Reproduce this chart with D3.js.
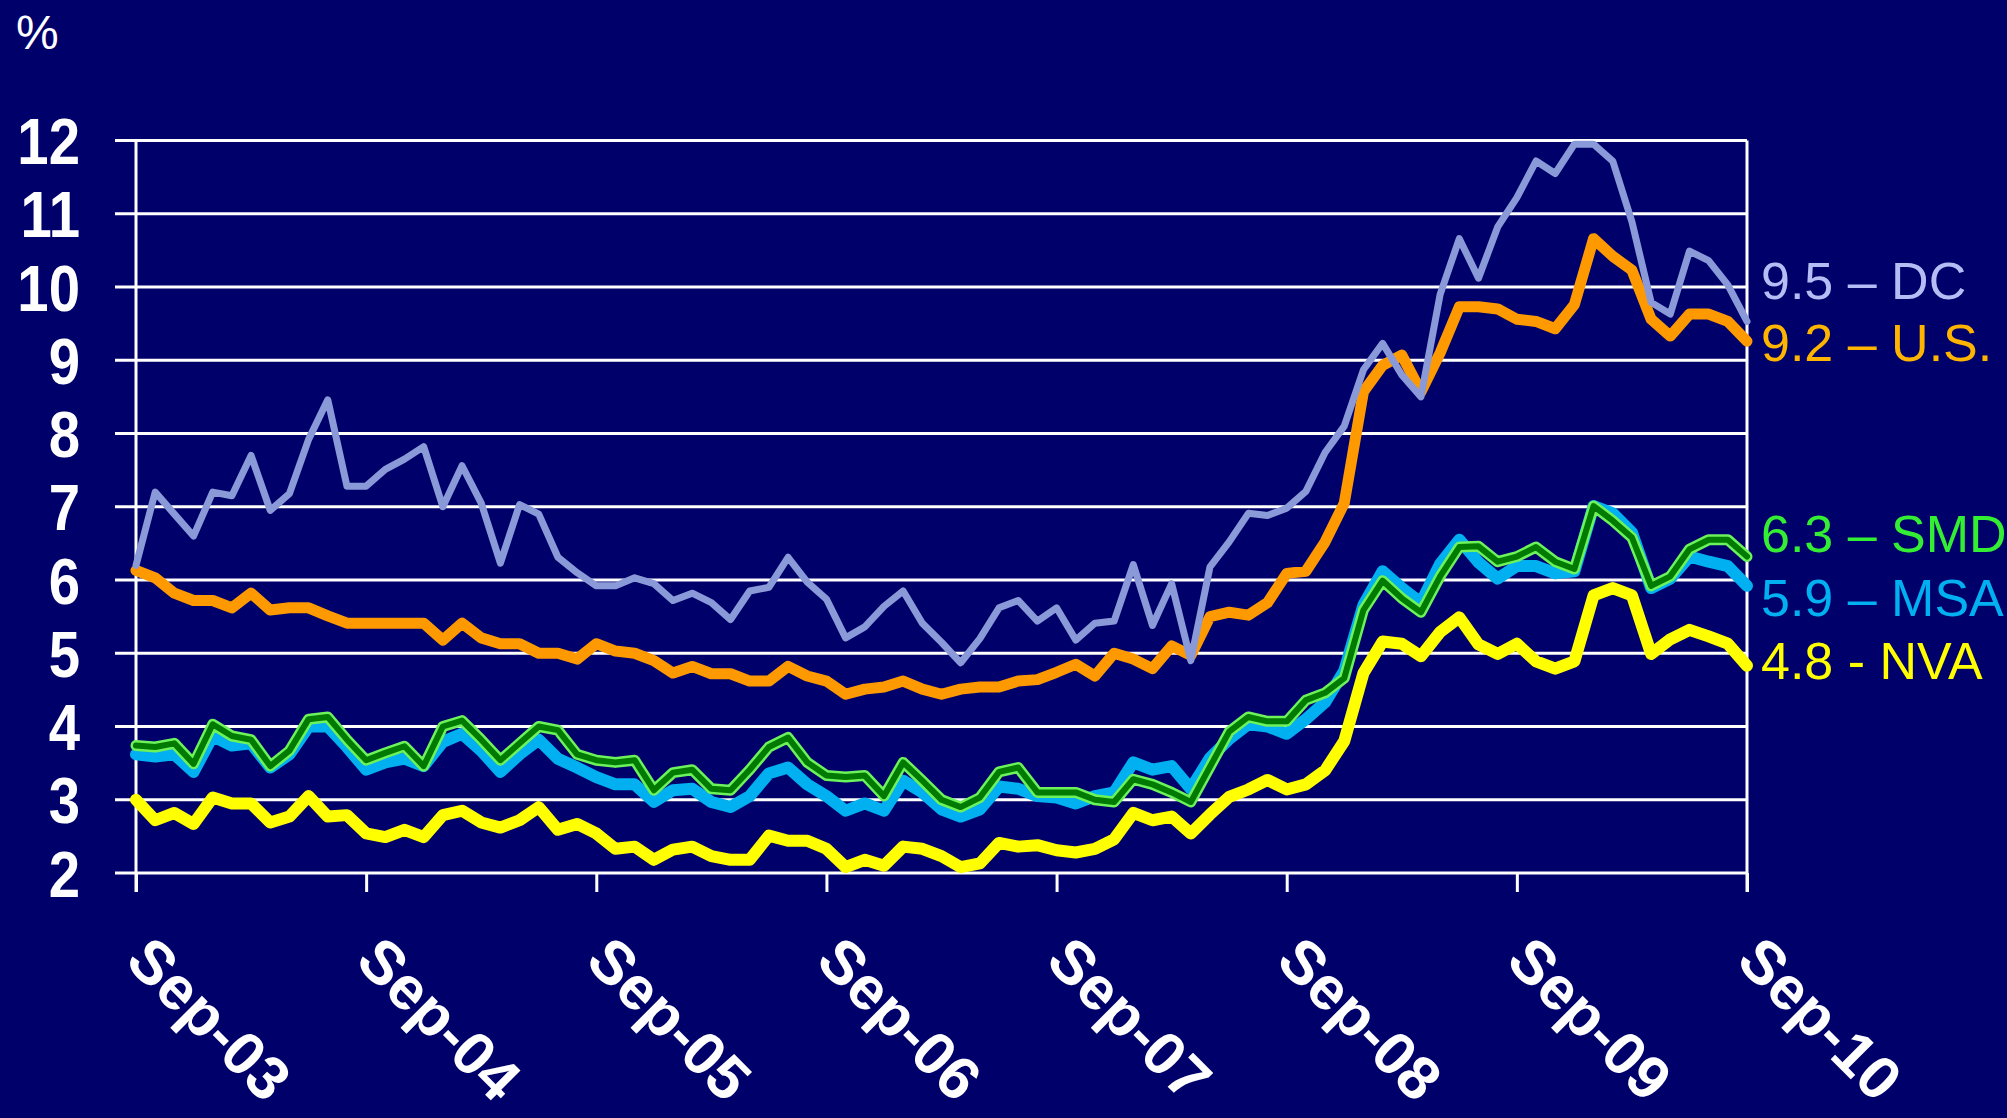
<!DOCTYPE html>
<html>
<head>
<meta charset="utf-8">
<script src="https://cdn.jsdelivr.net/npm/d3@7"></script>
<style>
  html, body { margin: 0; padding: 0; background: #00006a; overflow: hidden; }
  svg { display: block; }
</style>
</head>
<body>
<svg id="chart" width="2007" height="1118"></svg>
<script>
// ---- Data (monthly, Sep-03 .. Sep-10, 85 points) ----
const xTickLabels = ["Sep-03","Sep-04","Sep-05","Sep-06","Sep-07","Sep-08","Sep-09","Sep-10"];
const yTicks = [2,3,4,5,6,7,8,9,10,11,12];

const dc = [6.2,7.2,6.9,6.6,7.2,7.15,7.7,6.95,7.18,7.92,8.46,7.28,7.28,7.51,7.65,
  7.82,7.0,7.56,7.05,6.23,7.03,6.9,6.31,6.1,5.92,5.92,6.03,5.95,5.72,
  5.82,5.69,5.46,5.85,5.9,6.31,5.97,5.74,5.21,5.36,5.64,5.85,5.41,5.15,
  4.87,5.2,5.62,5.72,5.44,5.62,5.18,5.41,5.44,6.21,5.38,5.95,4.9,6.18,
  6.52,6.91,6.88,6.98,7.21,7.74,8.1,8.87,9.23,8.8,8.5,9.9,10.66,10.12,
  10.82,11.22,11.72,11.55,11.95,11.95,11.72,10.89,9.79,9.63,10.49,10.36,10.03,9.53];

const us = [6.13,6.03,5.82,5.72,5.72,5.62,5.82,5.59,5.62,5.62,5.51,5.41,5.41,5.41,5.41,
  5.41,5.18,5.41,5.21,5.13,5.13,5.0,5.0,4.92,5.13,5.03,5.0,4.9,4.73,
  4.82,4.72,4.72,4.62,4.62,4.82,4.69,4.62,4.44,4.51,4.54,4.62,4.51,4.44,
  4.51,4.54,4.54,4.62,4.64,4.74,4.85,4.69,5.0,4.92,4.79,5.1,4.97,5.5,
  5.56,5.52,5.69,6.09,6.12,6.52,7.05,8.57,8.93,9.07,8.57,9.1,9.73,9.73,
  9.7,9.56,9.53,9.43,9.76,10.66,10.42,10.23,9.56,9.33,9.63,9.63,9.53,9.26];

const smd = [3.74,3.72,3.77,3.49,4.03,3.87,3.82,3.46,3.67,4.1,4.13,3.82,3.54,3.64,3.73,
  3.46,4.0,4.08,3.82,3.54,3.77,4.0,3.95,3.62,3.54,3.51,3.54,3.13,3.37,
  3.41,3.15,3.13,3.41,3.72,3.85,3.51,3.33,3.31,3.33,3.05,3.51,3.26,3.0,
  2.9,3.03,3.38,3.44,3.1,3.1,3.1,3.0,2.97,3.28,3.21,3.1,2.97,3.45,
  3.93,4.13,4.07,4.07,4.36,4.46,4.66,5.59,5.99,5.75,5.56,6.05,6.45,6.46,
  6.25,6.32,6.45,6.25,6.15,7.01,6.81,6.58,5.92,6.05,6.42,6.55,6.55,6.32];

const msa = [3.62,3.59,3.62,3.38,3.87,3.74,3.77,3.44,3.62,4.0,4.0,3.72,3.41,3.51,3.56,
  3.46,3.79,3.9,3.67,3.38,3.62,3.82,3.56,3.44,3.31,3.21,3.21,2.97,3.13,
  3.15,2.97,2.9,3.05,3.36,3.44,3.21,3.05,2.85,2.95,2.85,3.26,3.1,2.87,
  2.77,2.87,3.18,3.15,3.05,3.03,2.95,3.05,3.1,3.51,3.41,3.46,3.15,3.57,
  3.83,4.03,4.0,3.9,4.1,4.33,4.76,5.66,6.12,5.89,5.69,6.22,6.55,6.24,
  6.02,6.19,6.19,6.09,6.12,7.01,6.91,6.65,5.89,6.02,6.32,6.25,6.19,5.92];

const nva = [3.0,2.72,2.82,2.67,3.03,2.95,2.95,2.69,2.77,3.05,2.77,2.79,2.54,2.49,2.59,
  2.49,2.79,2.85,2.69,2.62,2.72,2.9,2.59,2.67,2.54,2.33,2.36,2.18,2.32,
  2.36,2.23,2.18,2.18,2.51,2.44,2.44,2.33,2.08,2.18,2.1,2.36,2.33,2.23,
  2.08,2.13,2.41,2.36,2.38,2.31,2.28,2.33,2.46,2.82,2.72,2.77,2.54,2.8,
  3.04,3.14,3.27,3.14,3.21,3.4,3.8,4.73,5.16,5.13,4.96,5.29,5.49,5.12,
  4.99,5.13,4.89,4.79,4.89,5.79,5.89,5.79,4.99,5.19,5.32,5.23,5.13,4.83];

const endLabels = ["9.5 \u2013 DC","9.2 \u2013 U.S.","6.3 \u2013 SMD","5.9 \u2013 MSA","4.8 - NVA"];

// ---- Layout ----
const svg = d3.select("#chart");
const plotL = 136, plotR = 1747, plotT = 140.5, plotB = 873;
const x = d3.scaleLinear().domain([0, dc.length - 1]).range([plotL, plotR]);
const y = d3.scaleLinear().domain([2, 12]).range([plotB, plotT]);

svg.append("rect").attr("width", 2007).attr("height", 1118).attr("fill", "#00006a");

// gridlines
svg.append("g").selectAll("line").data(yTicks).join("line")
  .attr("x1", plotL - 21).attr("x2", plotR)
  .attr("y1", d => y(d)).attr("y2", d => y(d))
  .attr("stroke", "#fff").attr("stroke-width", 3);

// vertical axes
svg.append("line").attr("x1", plotL).attr("x2", plotL).attr("y1", plotT).attr("y2", plotB + 19)
  .attr("stroke", "#fff").attr("stroke-width", 3);
svg.append("line").attr("x1", plotR).attr("x2", plotR).attr("y1", plotT).attr("y2", plotB + 19)
  .attr("stroke", "#fff").attr("stroke-width", 3);

// x axis ticks and labels
const xTickIdx = xTickLabels.map((d, i) => i * 12);
const xAxis = d3.axisBottom(x).tickValues(xTickIdx).tickSize(19)
  .tickFormat((d, i) => xTickLabels[i]);
const gx = svg.append("g").attr("transform", `translate(0,${plotB})`).call(xAxis);
gx.select(".domain").remove();
gx.selectAll(".tick line").attr("stroke", "#fff").attr("stroke-width", 3);
gx.selectAll(".tick text")
  .attr("fill", "#fff")
  .attr("font-family", "Liberation Sans, Arial, sans-serif")
  .attr("font-weight", "bold")
  .attr("font-size", 61)
  .attr("text-anchor", "start")
  .attr("dy", null)
  .attr("y", 0)
  .attr("x", 0)
  .attr("transform", "translate(-13,90) rotate(45)");

// y axis labels
const yAxis = d3.axisLeft(y).tickValues(yTicks).tickSize(0).tickFormat(d3.format("d"));
const gy = svg.append("g").attr("transform", "translate(80,0)").call(yAxis);
gy.select(".domain").remove();
gy.selectAll(".tick text")
  .attr("fill", "#fff")
  .attr("font-family", "Liberation Sans, Arial, sans-serif")
  .attr("font-weight", "bold")
  .attr("font-size", 64)
  .attr("x", 0)
  .attr("dy", "0.36em")
  .attr("text-anchor", "end")
  .attr("transform", "scale(0.88,1)");

// % label
svg.append("text").attr("x", 16).attr("y", 49)
  .attr("fill", "#fff").attr("font-family", "Liberation Sans, Arial, sans-serif")
  .attr("font-size", 48).text("%");

// lines
const line = d3.line().x((d, i) => x(i)).y(d => y(d)).curve(d3.curveLinear);
function drawLine(data, color, width) {
  svg.append("path").datum(data).attr("d", line)
    .attr("fill", "none").attr("stroke", color).attr("stroke-width", width)
    .attr("stroke-linejoin", "round").attr("stroke-linecap", "round");
}
drawLine(nva, "#ffff00", 12);
drawLine(msa, "#00b0f0", 12);
drawLine(smd, "#6cf25a", 11);
drawLine(smd, "#007a00", 6);
drawLine(us, "#ff9900", 11);
drawLine(dc, "#8a9ad8", 7);

// end labels
const labelColors = ["#b6bcf4", "#ffb400", "#33ee33", "#00b0f0", "#ffff00"];
const labelY = [280, 342, 533, 597, 660];
svg.append("g").selectAll("text").data(endLabels).join("text")
  .attr("x", 1761).attr("y", (d, i) => labelY[i]).attr("dy", "0.36em")
  .attr("fill", (d, i) => labelColors[i])
  .attr("font-family", "Liberation Sans, Arial, sans-serif")
  .attr("font-size", 52)
  .text(d => d);
</script>
</body>
</html>
